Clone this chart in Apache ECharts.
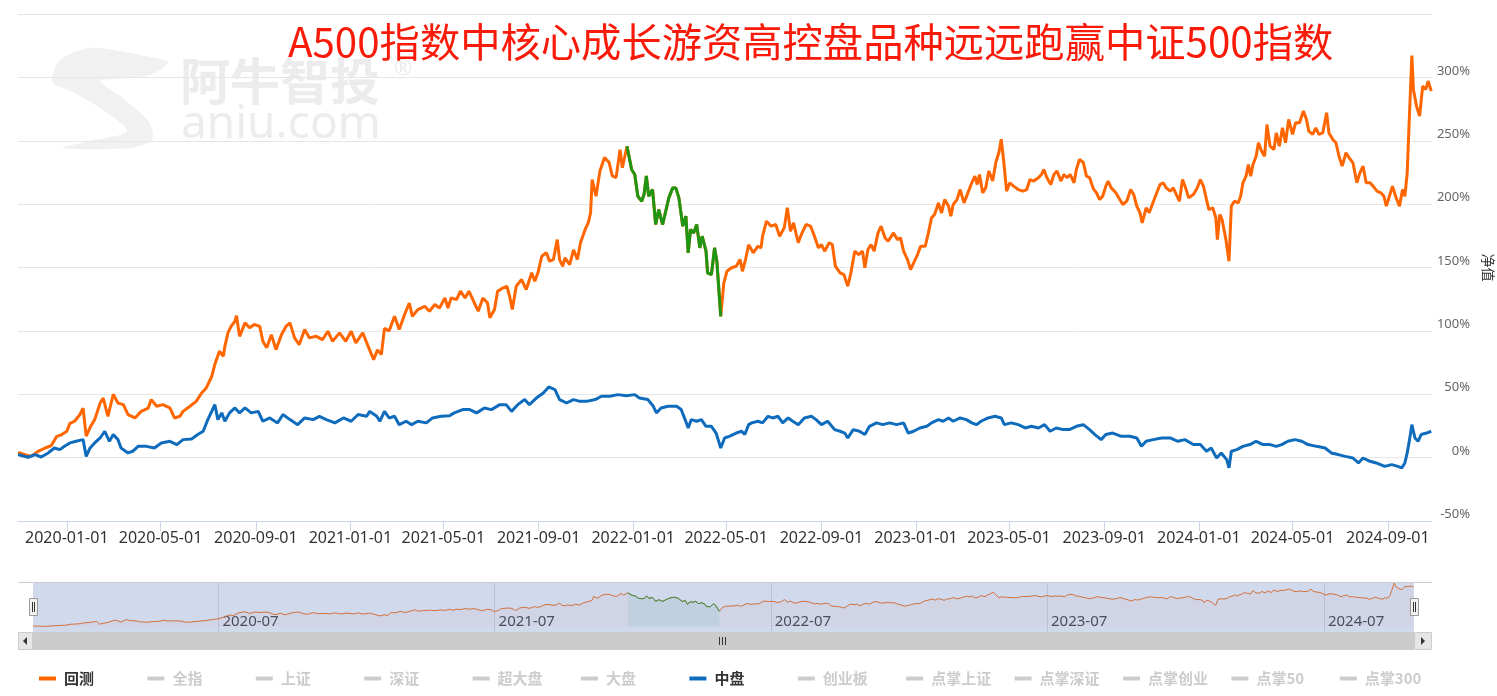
<!DOCTYPE html>
<html><head><meta charset="utf-8">
<script src="https://cdn.jsdelivr.net/npm/echarts@6/dist/echarts.min.js"></script>
<style>html,body{margin:0;padding:0;background:#fff}#c{width:1497px;height:696px}</style>
</head><body><div id="c"></div>
<script>
const titleText = 'A500指数中核心成长游资高控盘品种远远跑赢中证500指数';
const axisStart = '2019-10-30', axisEnd = '2024-10-28';
const xLabelDates = ['2020-01-01','2020-05-01','2020-09-01','2021-01-01','2021-05-01','2021-09-01','2022-01-01','2022-05-01','2022-09-01','2023-01-01','2023-05-01','2023-09-01','2024-01-01','2024-05-01','2024-09-01'];
const navLabelDates = ['2020-07-01','2021-07-01','2022-07-01','2023-07-01','2024-07-01'];
const legendNames = ['回测','全指','上证','深证','超大盘','大盘','中盘','创业板','点掌上证','点掌深证','点掌创业','点掌50','点掌300'];
const activeNames = ['回测','中盘'];
const greenStart = '2021-12-24', greenEnd = '2022-04-24';

const backtestPoints = [
['2019-10-30',4],['2019-11-08',2.4],['2019-11-16',1],['2019-11-25',5],['2019-12-04',7.6],['2019-12-12',9.5],['2019-12-19',16.8],['2019-12-25',18],
['2020-01-01',20.8],['2020-01-05',27],['2020-01-11',28.7],['2020-01-18',34],['2020-01-22',39],['2020-01-26',17],['2020-01-31',23.7],['2020-02-06',30],
['2020-02-13',43],['2020-02-17',47],['2020-02-23',32.6],['2020-03-01',50],['2020-03-07',43],['2020-03-14',41.8],['2020-03-20',34],['2020-03-29',31.3],
['2020-04-06',36.5],['2020-04-15',39],['2020-04-19',45.8],['2020-04-26',40.5],['2020-05-04',41.8],['2020-05-13',39.2],['2020-05-19',31.3],['2020-05-26',32.6],
['2020-05-30',36.5],['2020-06-08',40.5],['2020-06-16',44.4],['2020-06-23',51],['2020-06-29',55],['2020-07-06',64],['2020-07-10',73.4],['2020-07-16',84],
['2020-07-21',80],['2020-07-23',87.8],['2020-07-27',98.4],['2020-07-31',103.6],['2020-08-05',107.6],['2020-08-07',112],['2020-08-11',95.7],['2020-08-18',106.3],
['2020-08-24',102.4],['2020-08-30',105],['2020-09-06',103.6],['2020-09-10',91.8],['2020-09-15',86.6],['2020-09-21',97],['2020-09-27',85.2],['2020-10-04',97],
['2020-10-10',103.6],['2020-10-15',106.3],['2020-10-21',94.5],['2020-10-27',89.2],['2020-11-03',101],['2020-11-09',94.5],['2020-11-18',95.7],['2020-11-26',93.1],
['2020-12-03',99.7],['2020-12-09',91.8],['2020-12-18',98.4],['2020-12-26',91.8],['2021-01-02',99.7],['2021-01-08',90.5],['2021-01-17',98.4],['2021-01-23',89.2],
['2021-01-31',77.3],['2021-02-05',85],['2021-02-10',81.3],['2021-02-14',102],['2021-02-20',100],['2021-02-27',111.5],['2021-03-05',101],['2021-03-12',112.9],
['2021-03-18',122],['2021-03-22',111.5],['2021-03-29',116.8],['2021-04-07',119.4],['2021-04-13',115.5],['2021-04-20',120.8],['2021-04-26',118.1],['2021-05-03',126],
['2021-05-07',118.1],['2021-05-11',126],['2021-05-18',124.7],['2021-05-23',131.3],['2021-05-29',126],['2021-06-03',131.3],['2021-06-10',122],['2021-06-15',115.5],
['2021-06-21',126],['2021-06-27',122],['2021-06-30',110.3],['2021-07-06',116.8],['2021-07-10',131.3],['2021-07-17',133.9],['2021-07-22',135.2],['2021-07-26',126],
['2021-07-29',116.8],['2021-08-03',135.2],['2021-08-10',140.5],['2021-08-16',132.6],['2021-08-23',145.8],['2021-08-27',139.2],['2021-08-31',145.8],['2021-09-05',158.9],
['2021-09-11',161.6],['2021-09-15',155],['2021-09-20',156.3],['2021-09-25',172],['2021-09-28',156.3],['2021-10-02',151],['2021-10-05',157.6],['2021-10-11',152.3],
['2021-10-16',164],['2021-10-21',156.3],['2021-10-25',169.5],['2021-10-31',180],['2021-11-04',185.2],['2021-11-07',193],['2021-11-09',219.4],['2021-11-14',206.2],
['2021-11-19',226],['2021-11-25',236.8],['2021-12-01',232.8],['2021-12-05',222.3],['2021-12-10',221],['2021-12-15',243],['2021-12-18',228.7],['2021-12-24',245.7],
['2021-12-30',227.3],['2022-01-03',223.4],['2022-01-07',206.2],['2022-01-12',202.3],['2022-01-15',207.6],['2022-01-18',222.3],['2022-01-21',206.2],['2022-01-26',211.5],
['2022-01-30',183.9],['2022-02-03',195.7],['2022-02-08',183.9],['2022-02-12',194.4],['2022-02-16',204.9],['2022-02-21',212.8],['2022-02-25',212.8],['2022-03-01',204.9],
['2022-03-06',182.6],['2022-03-10',190.5],['2022-03-13',161.6],['2022-03-16',180],['2022-03-20',177.3],['2022-03-24',183.9],['2022-03-28',165.5],['2022-03-31',174.7],
['2022-04-05',162.9],['2022-04-07',145.8],['2022-04-12',144.4],['2022-04-16',165.5],['2022-04-19',155],['2022-04-24',111.5],['2022-04-28',137.9],['2022-05-02',147],
['2022-05-08',149.8],['2022-05-14',151],['2022-05-19',156.3],['2022-05-22',147],['2022-05-26',156.3],['2022-05-30',168],['2022-06-05',161.6],['2022-06-11',166.8],
['2022-06-15',165.5],['2022-06-17',174.7],['2022-06-22',186.5],['2022-06-28',182.6],['2022-07-04',183.9],['2022-07-09',174.7],['2022-07-15',181.3],['2022-07-19',197.1],
['2022-07-23',178.6],['2022-07-27',185.2],['2022-08-02',169.5],['2022-08-06',176],['2022-08-12',183.9],['2022-08-18',182.6],['2022-08-23',174.7],['2022-08-28',165.5],
['2022-09-01',168.1],['2022-09-05',162.9],['2022-09-11',169.5],['2022-09-15',168.1],['2022-09-19',151],['2022-09-25',145.8],['2022-09-30',144.4],['2022-10-05',135.2],
['2022-10-09',145.8],['2022-10-14',162.9],['2022-10-19',160.2],['2022-10-24',162.9],['2022-10-27',149.8],['2022-10-31',164.2],['2022-11-04',168.1],['2022-11-08',162.9],
['2022-11-13',177.3],['2022-11-17',182.6],['2022-11-22',173.4],['2022-11-26',170.7],['2022-12-03',177.3],['2022-12-08',172],['2022-12-12',173.4],['2022-12-16',162.9],
['2022-12-21',156.3],['2022-12-25',148.4],['2022-12-29',153.6],['2023-01-03',160.2],['2023-01-07',166.8],['2023-01-13',166.8],['2023-01-17',177.3],['2023-01-21',189.1],
['2023-01-25',191.8],['2023-01-30',201],['2023-02-03',193],['2023-02-07',203.6],['2023-02-12',198.4],['2023-02-15',190.5],['2023-02-18',199.7],['2023-02-23',203.6],
['2023-02-27',211.5],['2023-03-04',201],['2023-03-09',208.9],['2023-03-14',216.8],['2023-03-18',222.1],['2023-03-21',215.5],['2023-03-24',223.4],['2023-03-28',208.9],
['2023-04-01',212.8],['2023-04-05',226.1],['2023-04-10',218.2],['2023-04-14',232.8],['2023-04-18',240.7],['2023-04-21',251.2],['2023-04-24',235.2],['2023-04-28',210.2],
['2023-05-02',216.8],['2023-05-07',214.2],['2023-05-13',211.5],['2023-05-19',210.2],['2023-05-24',211.5],['2023-05-28',219.4],['2023-06-02',218.2],['2023-06-08',220.8],
['2023-06-12',223.4],['2023-06-15',227.3],['2023-06-19',220.8],['2023-06-24',215.5],['2023-06-28',223.4],['2023-07-02',226.1],['2023-07-07',218.2],['2023-07-11',223.4],
['2023-07-15',220.8],['2023-07-19',223.4],['2023-07-24',216.8],['2023-07-27',227.3],['2023-07-31',235.2],['2023-08-05',232.8],['2023-08-09',222.1],['2023-08-13',221],
['2023-08-18',212],['2023-08-22',208.9],['2023-08-26',203.6],['2023-08-30',206.2],['2023-09-03',214.2],['2023-09-06',218.2],['2023-09-10',212.8],['2023-09-16',208.9],
['2023-09-21',203.6],['2023-09-25',199.7],['2023-09-30',202.3],['2023-10-05',211.5],['2023-10-09',207.6],['2023-10-13',198.4],['2023-10-17',193.2],['2023-10-20',185.2],
['2023-10-25',197.1],['2023-10-29',193.2],['2023-11-02',199.7],['2023-11-06',206.2],['2023-11-12',215.5],['2023-11-16',216.8],['2023-11-20',212.8],['2023-11-25',210.2],
['2023-11-29',212.8],['2023-12-02',208.9],['2023-12-07',202.3],['2023-12-11',219.4],['2023-12-15',212.8],['2023-12-19',204.9],['2023-12-25',207.6],['2023-12-30',212.8],
['2024-01-03',219.4],['2024-01-07',214.2],['2024-01-11',203.6],['2024-01-14',195.7],['2024-01-19',197.1],['2024-01-23',189.2],['2024-01-25',172],['2024-01-28',191.8],
['2024-01-31',188],['2024-02-05',172],['2024-02-09',155],['2024-02-12',198.4],['2024-02-16',202.3],['2024-02-21',201],['2024-02-24',206.2],['2024-02-27',216.8],
['2024-03-02',222.1],['2024-03-05',231.3],['2024-03-08',222.1],['2024-03-11',231.3],['2024-03-15',237.8],['2024-03-18',248.4],['2024-03-22',241.8],['2024-03-26',237.8],
['2024-03-29',262.8],['2024-04-02',245.7],['2024-04-07',243.1],['2024-04-10',256.2],['2024-04-14',245.7],['2024-04-18',260.2],['2024-04-22',248.4],['2024-04-26',266.8],
['2024-05-01',255],['2024-05-05',264.2],['2024-05-10',264.2],['2024-05-15',273.4],['2024-05-19',266.8],['2024-05-22',257.6],['2024-05-27',255],['2024-05-31',260.2],
['2024-06-04',255],['2024-06-09',256.2],['2024-06-14',272.1],['2024-06-17',256.2],['2024-06-22',251],['2024-06-26',248.4],['2024-06-30',237.8],['2024-07-04',230],
['2024-07-09',240.5],['2024-07-13',236.6],['2024-07-18',232.6],['2024-07-23',216.8],['2024-07-27',224.7],['2024-07-31',230],['2024-08-04',216.8],['2024-08-09',216.8],
['2024-08-13',214.2],['2024-08-18',210.2],['2024-08-23',208.9],['2024-08-27',206.2],['2024-08-30',198.4],['2024-09-03',206.2],['2024-09-07',214.2],['2024-09-11',206.2],
['2024-09-16',198.4],['2024-09-20',211.5],['2024-09-23',206.2],['2024-09-26',224.7],['2024-09-28',256.2],['2024-10-02',317.3],['2024-10-04',290.5],['2024-10-08',277.3],
['2024-10-12',269.4],['2024-10-16',293.1],['2024-10-20',290.5],['2024-10-23',297.1],['2024-10-27',289.2]
];

const midcapPoints = [
['2019-10-30',2.4],['2019-11-12',0.3],['2019-11-21',2.4],['2019-11-29',0.5],['2019-12-08',3.7],['2019-12-16',7.6],['2019-12-23',6.3],['2019-12-29',8.9],
['2020-01-05',11.6],['2020-01-13',12.9],['2020-01-22',14.2],['2020-01-26',1],['2020-01-31',7.6],['2020-02-06',11.6],['2020-02-13',15.5],['2020-02-19',20.8],
['2020-02-25',12.9],['2020-03-01',18.2],['2020-03-07',14.2],['2020-03-11',7.6],['2020-03-20',3.7],['2020-03-26',5],['2020-04-02',8.9],['2020-04-13',8.9],
['2020-04-23',7.6],['2020-05-02',11.6],['2020-05-13',12.9],['2020-05-22',10.3],['2020-05-30',14.2],['2020-06-10',14.7],['2020-06-18',18.2],['2020-06-25',20.8],
['2020-07-01',30],['2020-07-06',36.5],['2020-07-10',41.8],['2020-07-14',30],['2020-07-19',35.3],['2020-07-23',28.7],['2020-07-29',35.3],['2020-08-05',39.2],
['2020-08-11',35.3],['2020-08-18',39.2],['2020-08-26',35.3],['2020-09-04',36.5],['2020-09-10',28.7],['2020-09-19',31.3],['2020-09-29',27.4],['2020-10-06',34],
['2020-10-15',30],['2020-10-25',26],['2020-11-03',31.3],['2020-11-14',30],['2020-11-22',32.6],['2020-12-01',30],['2020-12-12',27.4],['2020-12-23',31.3],
['2021-01-02',28.7],['2021-01-11',34],['2021-01-22',32.6],['2021-01-26',36.5],['2021-02-04',32.6],['2021-02-08',28.7],['2021-02-14',36.5],['2021-02-20',31.3],
['2021-02-27',32.6],['2021-03-05',26],['2021-03-14',28.7],['2021-03-21',26],['2021-03-29',28.7],['2021-04-09',27.4],['2021-04-17',31.3],['2021-04-28',32.6],
['2021-05-09',33.1],['2021-05-15',35.3],['2021-05-26',37.9],['2021-06-04',37.9],['2021-06-13',35.3],['2021-06-23',39.2],['2021-07-02',37.9],['2021-07-13',41.8],
['2021-07-21',41.8],['2021-07-28',36.5],['2021-08-05',41.8],['2021-08-14',45.8],['2021-08-20',41.8],['2021-08-29',47],['2021-09-07',51],['2021-09-14',55.8],
['2021-09-22',53.7],['2021-09-28',45.8],['2021-10-07',43.1],['2021-10-16',45.8],['2021-10-24',44.4],['2021-11-02',44.4],['2021-11-13',45.8],['2021-11-21',48.4],
['2021-12-02',48.4],['2021-12-12',49.7],['2021-12-23',48.9],['2022-01-03',49.7],['2022-01-09',47],['2022-01-20',45.8],['2022-01-27',40.5],['2022-01-31',35.3],
['2022-02-06',39.2],['2022-02-15',40.5],['2022-02-26',40.5],['2022-03-04',37.9],['2022-03-09',30],['2022-03-13',23.4],['2022-03-17',30],['2022-03-24',28.7],
['2022-03-30',30],['2022-04-05',24.7],['2022-04-12',24.7],['2022-04-18',19.4],['2022-04-24',7.6],['2022-04-29',15.5],['2022-05-05',16.8],['2022-05-14',19.4],
['2022-05-21',20.8],['2022-05-25',18.2],['2022-05-30',26],['2022-06-03',27.4],['2022-06-11',28.7],['2022-06-17',27.4],['2022-06-24',32.6],['2022-06-30',31.3],
['2022-07-07',32.6],['2022-07-13',27.4],['2022-07-20',31.3],['2022-07-26',28.7],['2022-08-02',26],['2022-08-10',31.3],['2022-08-19',32.6],['2022-08-25',30],
['2022-09-01',26],['2022-09-09',28.7],['2022-09-18',22.1],['2022-09-25',20.8],['2022-10-01',19.4],['2022-10-05',15.5],['2022-10-12',22.1],['2022-10-20',20.8],
['2022-10-27',18.2],['2022-11-02',24.7],['2022-11-11',27.4],['2022-11-19',26],['2022-11-28',27.4],['2022-12-07',26],['2022-12-16',27.4],['2022-12-22',19.4],
['2022-12-29',20.8],['2023-01-06',23.4],['2023-01-15',24.7],['2023-01-21',27.4],['2023-01-30',30],['2023-02-05',28.7],['2023-02-12',31.3],['2023-02-18',28.7],
['2023-02-27',31.3],['2023-03-07',30],['2023-03-14',27.4],['2023-03-20',26],['2023-03-26',28.7],['2023-04-04',31.3],['2023-04-13',32.6],['2023-04-21',31.3],
['2023-04-25',26],['2023-05-04',27.4],['2023-05-13',26],['2023-05-22',23.4],['2023-05-30',24.7],['2023-06-08',23.4],['2023-06-16',26],['2023-06-23',20.8],
['2023-07-01',23.4],['2023-07-10',22.1],['2023-07-18',22.1],['2023-07-27',24.7],['2023-08-05',26],['2023-08-13',22.1],['2023-08-20',18.2],['2023-08-28',14.2],
['2023-09-03',18.2],['2023-09-12',19.4],['2023-09-23',16.8],['2023-10-04',16.8],['2023-10-13',15.5],['2023-10-19',8.9],['2023-10-25',12.9],['2023-11-03',14.2],
['2023-11-14',15.5],['2023-11-25',15.5],['2023-12-05',12.9],['2023-12-14',14.2],['2023-12-25',10.3],['2024-01-03',10.3],['2024-01-11',5],['2024-01-17',7.6],
['2024-01-24',-0.3],['2024-01-30',3.7],['2024-02-06',-1.6],['2024-02-09',-8.1],['2024-02-12',5],['2024-02-19',6.3],['2024-02-27',8.9],['2024-03-07',10.3],
['2024-03-15',12.9],['2024-03-24',10.3],['2024-04-02',10.3],['2024-04-10',8.9],['2024-04-17',10.3],['2024-04-25',12.9],['2024-05-04',14.2],['2024-05-13',12.9],
['2024-05-21',10.3],['2024-06-01',8.9],['2024-06-12',7.6],['2024-06-20',3.7],['2024-06-29',2.4],['2024-07-08',1],['2024-07-18',-0.3],['2024-07-25',-4.2],
['2024-07-31',-0.3],['2024-08-09',-2.9],['2024-08-17',-4.2],['2024-08-28',-6.9],['2024-09-06',-5.5],['2024-09-14',-6.9],['2024-09-19',-8.1],['2024-09-23',-4.2],
['2024-09-26',3.7],['2024-09-29',14.2],['2024-10-02',26],['2024-10-06',15.5],['2024-10-10',12.9],['2024-10-14',18.2],['2024-10-21',19.4],['2024-10-27',20.8]
];

const P = s => { const a = s.split('-').map(Number); return new Date(a[0], a[1]-1, a[2]).getTime(); };
const pad = n => (n < 10 ? '0' : '') + n;
const fmtDay = v => { const d = new Date(v); return d.getFullYear() + '-' + pad(d.getMonth()+1) + '-' + pad(d.getDate()); };
const fmtMonth = v => { const d = new Date(v); return d.getFullYear() + '-' + pad(d.getMonth()+1); };

const ORANGE = '#ff6600', GREEN = '#1e9614', BLUE = '#0f6cbd';
const backData = backtestPoints.map(p => [P(p[0]), p[1]]);
const greenData = backtestPoints.filter(p => p[0] >= greenStart && p[0] <= greenEnd).map(p => [P(p[0]), p[1]]);
const midData = midcapPoints.map(p => [P(p[0]), p[1]]);
const FONT = '"Noto Sans", "Noto Sans CJK SC", sans-serif';
const CJK = '"Noto Sans CJK SC", sans-serif';

const lineBase = {type: 'line', showSymbol: false, symbol: 'none', silent: true, animation: false};
const series = [];
series.push(Object.assign({}, lineBase, {name: '回测', data: backData, color: ORANGE, lineStyle: {width: 3, color: ORANGE}, z: 3}));
series.push(Object.assign({}, lineBase, {name: '回测', data: greenData, color: GREEN, lineStyle: {width: 3, color: GREEN}, z: 4}));
legendNames.forEach(n => {
  if (n === '回测') return;
  if (n === '中盘') {
    series.push(Object.assign({}, lineBase, {name: n, data: midData, color: BLUE, lineStyle: {width: 3, color: BLUE}, z: 5}));
  } else {
    series.push(Object.assign({}, lineBase, {name: n, data: [], color: '#cccccc'}));
  }
});
series.push(Object.assign({}, lineBase, {name: 'nav1', xAxisIndex: 1, yAxisIndex: 1, data: backData, color: ORANGE,
  lineStyle: {width: 1, color: ORANGE}, areaStyle: {color: ORANGE, opacity: 0.05}}));
series.push(Object.assign({}, lineBase, {name: 'nav2', xAxisIndex: 1, yAxisIndex: 1, data: greenData, color: GREEN,
  lineStyle: {width: 1, color: GREEN}, areaStyle: {color: '#9fe0e0', opacity: 0.25}}));

// one legend component per item so every item sits on the fixed 108px pitch of the original
const legends = legendNames.map((n, i) => ({
  data: [n], selected: {[n]: activeNames.indexOf(n) >= 0},
  left: 34 + i * 108.4, top: 666, padding: 5,
  icon: 'rect', itemWidth: 17, itemHeight: 4, inactiveColor: '#cccccc',
  textStyle: {fontSize: 15, fontWeight: 'bold', color: '#333333', fontFamily: CJK, padding: [0, 0, 0, 3]}
}));

const logoPts = [[52,78],[60,60],[88,48],[120,51],[145,56],[168,62],[150,75],[118,79],[100,81],[125,100],[149,122],[152,140],[130,148],[62,148],[95,140],[127,131],[100,108],[70,91],[54,84]];

const graphics = [
  {type: 'polygon', z: 0, silent: true, shape: {points: logoPts, smooth: 0.3}, style: {fill: '#f1f1f1'}},
  {type: 'text', z: 0, silent: true, x: 180, y: 56, style: {text: '阿牛智投', font: 'bold 50px "Noto Sans CJK SC"', fill: '#ececec'}},
  {type: 'text', z: 0, silent: true, x: 181, y: 102, style: {text: 'aniu.com', font: '46px "Noto Sans"', fill: '#ececec'}},
  {type: 'text', z: 0, silent: true, x: 394, y: 58, style: {text: '®', font: '22px "Noto Sans"', fill: '#ececec'}},
  {type: 'rect', z: 50, silent: true, shape: {x: 33, y: 582, width: 1381, height: 50}, style: {fill: 'rgba(102,133,194,0.3)'}},
  {type: 'line', z: 51, silent: true, shape: {x1: 18, y1: 582.5, x2: 1432, y2: 582.5}, style: {stroke: '#cccccc', lineWidth: 1}},
  {type: 'rect', z: 52, silent: true, shape: {x: 29.5, y: 598.5, width: 8, height: 17}, style: {fill: '#f2f2f2', stroke: '#999999', lineWidth: 1}},
  {type: 'line', z: 53, silent: true, shape: {x1: 32.5, y1: 602, x2: 32.5, y2: 612}, style: {stroke: '#333', lineWidth: 1}},
  {type: 'line', z: 53, silent: true, shape: {x1: 34.5, y1: 602, x2: 34.5, y2: 612}, style: {stroke: '#333', lineWidth: 1}},
  {type: 'rect', z: 52, silent: true, shape: {x: 1410.5, y: 598.5, width: 8, height: 17}, style: {fill: '#f2f2f2', stroke: '#999999', lineWidth: 1}},
  {type: 'line', z: 53, silent: true, shape: {x1: 1413.5, y1: 602, x2: 1413.5, y2: 612}, style: {stroke: '#333', lineWidth: 1}},
  {type: 'line', z: 53, silent: true, shape: {x1: 1415.5, y1: 602, x2: 1415.5, y2: 612}, style: {stroke: '#333', lineWidth: 1}},
  {type: 'rect', z: 50, silent: true, shape: {x: 18, y: 632, width: 1414, height: 18}, style: {fill: '#f2f2f2'}},
  {type: 'rect', z: 51, silent: true, shape: {x: 33, y: 632, width: 1381, height: 18}, style: {fill: '#cccccc'}},
  {type: 'rect', z: 51, silent: true, shape: {x: 18.5, y: 632.5, width: 14, height: 17}, style: {fill: '#e6e6e6', stroke: '#cccccc', lineWidth: 1}},
  {type: 'polygon', z: 52, silent: true, shape: {points: [[27, 637], [27, 645], [23, 641]]}, style: {fill: '#333'}},
  {type: 'rect', z: 51, silent: true, shape: {x: 1414.5, y: 632.5, width: 17, height: 17}, style: {fill: '#e6e6e6', stroke: '#cccccc', lineWidth: 1}},
  {type: 'polygon', z: 52, silent: true, shape: {points: [[1421, 637], [1421, 645], [1425, 641]]}, style: {fill: '#333'}},
  {type: 'line', z: 52, silent: true, shape: {x1: 719.5, y1: 637, x2: 719.5, y2: 645}, style: {stroke: '#333', lineWidth: 1}},
  {type: 'line', z: 52, silent: true, shape: {x1: 722.5, y1: 637, x2: 722.5, y2: 645}, style: {stroke: '#333', lineWidth: 1}},
  {type: 'line', z: 52, silent: true, shape: {x1: 725.5, y1: 637, x2: 725.5, y2: 645}, style: {stroke: '#333', lineWidth: 1}}
];

const option = {
  animation: false,
  backgroundColor: '#ffffff',
  title: {text: titleText, left: 283, top: 17, textStyle: {color: '#fa1a0a', fontSize: 40.3, fontWeight: 'normal', fontFamily: CJK}},
  legend: legends,
  grid: [
    {left: 18, right: 65, top: 14, bottom: 175, containLabel: false, outerBoundsMode: 'none'},
    {left: 33, right: 83, top: 582, height: 50, containLabel: false, outerBoundsMode: 'none'}
  ],
  xAxis: [
    {type: 'value', gridIndex: 0, min: P(axisStart), max: P(axisEnd), scale: true,
     axisLine: {show: true, onZero: false, lineStyle: {color: '#ccd6eb'}},
     axisTick: {show: true, customValues: xLabelDates.map(P), length: 10, lineStyle: {color: '#ccd6eb'}},
     axisLabel: {customValues: xLabelDates.map(P), formatter: fmtDay, color: '#333', fontSize: 16, fontFamily: FONT, margin: 9},
     splitLine: {show: false}},
    {type: 'value', gridIndex: 1, min: P(axisStart), max: P(axisEnd), scale: true,
     axisLine: {show: false, onZero: false},
     axisTick: {show: true, inside: true, customValues: navLabelDates.map(P), length: 50, lineStyle: {color: '#e0e0e0'}},
     axisLabel: {inside: true, customValues: navLabelDates.map(P), formatter: fmtMonth, color: '#333', fontSize: 15, fontFamily: FONT, align: 'left', margin: 3, padding: [0, 0, 0, 4]},
     splitLine: {show: false}}
  ],
  yAxis: [
    {type: 'value', gridIndex: 0, position: 'right', min: -50, max: 350, interval: 50,
     axisLine: {show: false}, axisTick: {show: false},
     splitLine: {show: true, lineStyle: {color: '#e6e6e6', width: 1}},
     axisLabel: {formatter: '{value}%', color: '#666', fontSize: 13, fontFamily: FONT, align: 'right', margin: 38, verticalAlign: 'bottom', showMaxLabel: false},
     name: '净值', nameLocation: 'middle', nameGap: 48, nameRotate: -90,
     nameTextStyle: {color: '#333', fontSize: 14, fontFamily: CJK}},
    {type: 'value', gridIndex: 1, min: -40, max: 325, show: false, splitLine: {show: false}}
  ],
  series: series,
  graphic: {elements: graphics}
};

const chart = echarts.init(document.getElementById('c'));
chart.setOption(option);
</script>
</body></html>
